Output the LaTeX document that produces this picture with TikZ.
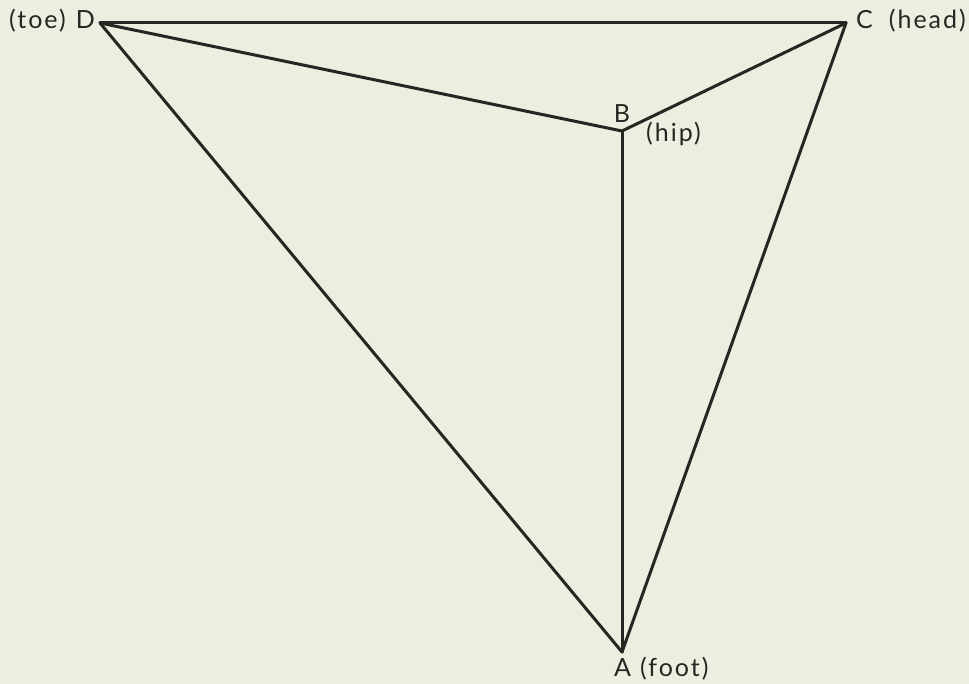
\documentclass[tikz,border=0pt]{standalone}
\usepackage{fontspec}
\setmainfont{Lato}[LetterSpace=8]
\definecolor{paper}{RGB}{237,238,223}
\definecolor{ink}{RGB}{38,38,34}
\tikzset{
  edge/.style={draw=ink,line width=3pt,line join=round,line cap=round},
  lbl/.style={text=ink,font=\fontsize{25}{27}\selectfont,inner sep=0pt}
}
\begin{document}
\begin{tikzpicture}[x=1pt,y=-1pt]
\fill[paper] (0,0) rectangle (969,684);
\useasboundingbox (0,0) rectangle (969,684);
\coordinate (D) at (100,23);
\coordinate (C) at (846,23);
\coordinate (B) at (622,131);
\coordinate (A) at (622,652);
\draw[edge] (D) -- (C);
\draw[edge] (D) -- (B);
\draw[edge] (C) -- (B);
\draw[edge] (B) -- (A);
\draw[edge] (D) -- (A);
\draw[edge] (C) -- (A);
\node[lbl,anchor=east] (Dl) at (95,21) {(toe)\hspace{10pt}D};
\node[lbl,anchor=west] (Cl) at (856,21) {C\hspace{16pt}(head)};
\node[lbl] (Bl) at (622,114) {B};
\node[lbl,anchor=west] (Bh) at (646,134) {(hip)};
\node[lbl,anchor=west] (Al) at (614,669) {A\hspace{9pt}(foot)};
\end{tikzpicture}
\end{document}
